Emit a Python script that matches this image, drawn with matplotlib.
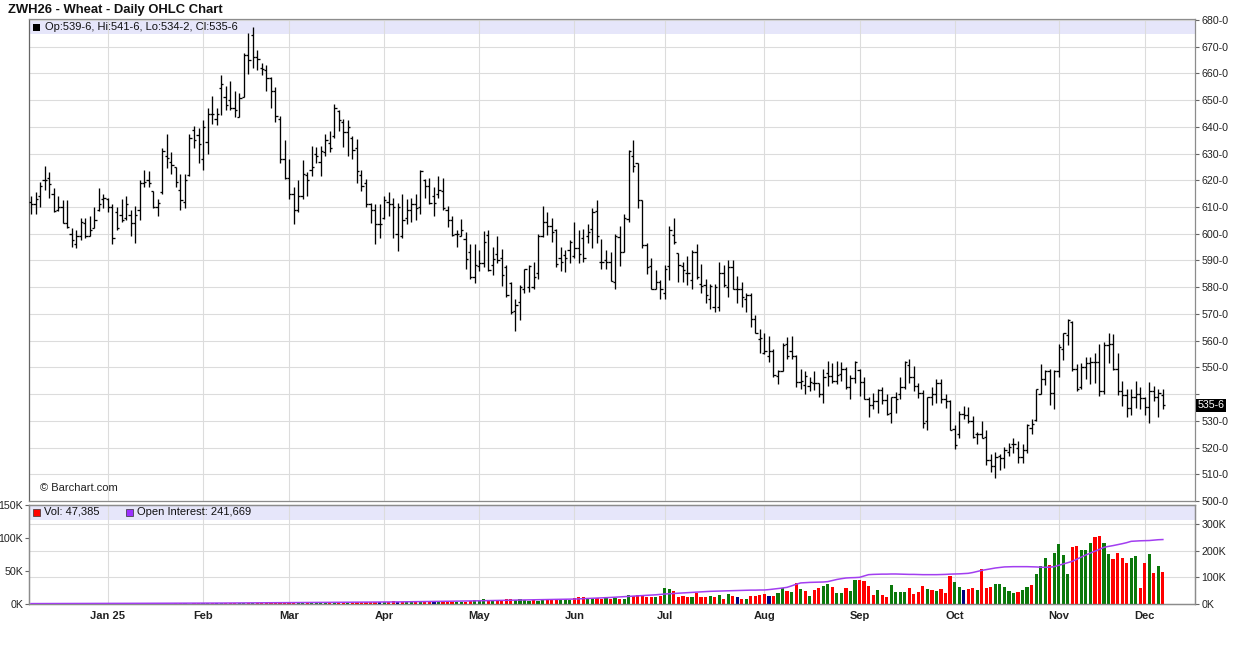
import matplotlib
matplotlib.use("Agg")
import matplotlib.pyplot as plt
import matplotlib.transforms as mtransforms
from matplotlib.collections import LineCollection
from matplotlib.patches import Rectangle
import numpy as np
import pandas as pd

plt.rcParams['font.family'] = ['Liberation Sans', 'DejaVu Sans']

# ---------------- data ----------------
opens = [
    612, 611, 614, 620, 621, 615, 609, 610, 604, 600,
    596, 599, 604, 599, 602, 609, 613, 613, 610, 608,
    607, 606, 607, 604, 609, 619, 620, 616, 610, 615.5,
    629, 627, 625, 616.5, 612, 622, 639, 637, 628, 634.5,
    644.75, 643, 654.5, 651.25, 650, 647, 643.75, 651, 667, 674.5,
    666, 662, 661.25, 658.25, 653.25, 643, 628, 621, 615, 609,
    614, 622, 624, 630, 627, 630.5, 634, 636.5, 646, 642,
    638, 636, 632, 622, 619, 611, 609, 603.5, 606, 612,
    611, 600, 599, 606, 609, 611, 610, 620, 618, 614,
    615, 616, 609, 605, 600, 599, 598, 593, 584, 588,
    589, 599.5, 588.5, 592.5,
    590.75, 587.75, 581.75, 571.25, 574.5, 579.25, 580, 580, 585.25, 599.25,
    604.25, 602.75, 601.5, 590.75, 592, 594, 591.5, 594.5, 598.25, 599,
    601.75, 608.5, 589.5, 590.25, 589.5, 582, 598.75, 593.25, 605.5, 629,
    626.5, 612.5, 595.75, 588, 579.25, 582, 578, 588, 599.5, 592.75,
    588, 585.25, 582.75, 593, 581.25, 580.75, 575.5, 572.5, 572.75, 585.25,
    580.25, 587.5, 579.5, 579.5, 575.5, 577, 568.25, 560.5, 555.5, 554.25,
    556, 546.75, 548.5, 558.75, 556.25, 554.25, 544.5, 543.5, 543, 544.25,
    544, 540, 547.75, 546.75, 545, 547.5, 549.5, 542.5, 546, 549,
    544.5, 538, 536, 537.25, 541.5, 537.75, 532.75, 538.75, 540, 542.75,
    550.75, 546.25, 543, 540.5, 530, 539, 540, 544.25, 538, 537.5,
    527, 525, 532.5, 532.25, 530, 525, 525, 524, 515.25, 513,
    516.75, 516, 518.5, 521.25, 520, 516.5, 519.25, 527.5, 530.25, 540,
    545.5, 548.5, 540.25, 548.5, 556.75, 562, 567, 549.5, 542.5, 550.25,
    551.5, 552, 552, 541.25, 558.5, 558.75, 549.25, 541.25, 539.75, 534.75,
    539, 540, 538.5, 535, 541.25, 538.75, 539.75]

highs = [
    614, 615.75, 619.5, 625.5, 623, 617, 614, 612.5, 612.5, 602,
    601.5, 606, 606, 606.5, 610, 617, 615, 613.5, 611, 610,
    613, 614, 609, 610.5, 620, 624, 623.5, 616, 613, 632,
    637.5, 630.5, 625, 622.5, 622.5, 637.5, 640.25, 639.75, 642.5, 647,
    651.5, 647.25, 659.5, 655.25, 657.25, 653.5, 652.5, 667.5, 675.25, 677.25,
    668.75, 664, 663.25, 658.75, 655, 644, 635, 628, 617.5, 620,
    627.5, 623, 633, 632.5, 633, 637.5, 638.5, 648.5, 646.5, 643,
    642.5, 636.5, 635.5, 624, 620.5, 611.5, 611, 611, 614, 615.5,
    613.5, 611.5, 615, 613, 613.5, 615, 624, 620.5, 621, 617.5,
    621.5, 621, 610.5, 606.5, 601.5, 605.5, 600.5, 596, 596, 594,
    601, 601.5, 595, 599,
    594.25, 588.25, 582, 575.5, 580.75, 587, 588.25, 589.25, 600, 610.5,
    608.25, 605.75, 601.75, 595, 593.75, 597.5, 604.5, 601.25, 601.75, 603.5,
    609.5, 612.5, 598, 593.75, 593.25, 600, 602.75, 607.5, 631.25, 635,
    626.5, 612.5, 596.5, 590.75, 586.5, 582.75, 588.25, 602.75, 605.75, 592.75,
    589.25, 591.75, 593.75, 596.25, 588.75, 583.25, 581.25, 581.25, 589.5, 588.25,
    590.25, 590.25, 584.25, 582, 578, 578, 569.5, 564.5, 563, 561.75,
    556.75, 549, 559.25, 561.5, 561.75, 554.5, 549.5, 548.5, 546.5, 548.5,
    544.25, 549.5, 552.5, 551.5, 552.5, 552, 550.25, 547, 552.5, 549.25,
    546.25, 539, 540.25, 541.75, 542.75, 540, 539, 540.75, 546.25, 552.5,
    553.25, 550.5, 544.25, 541.5, 539, 542.5, 545.5, 545.5, 540, 537.75,
    528.5, 533.5, 535.5, 535.25, 531.75, 526, 530, 526.5, 517.75, 518.5,
    517.5, 520.25, 521.75, 523.75, 522.5, 521.25, 528.75, 530.5, 541.75, 551.25,
    549, 549.5, 549, 558.75, 562.75, 568, 567.5, 551.25, 551.75, 553.75,
    553.75, 555.5, 558.75, 559.5, 563, 562.5, 555.5, 545, 541.75, 541.75,
    545, 542.5, 539, 544.5, 543, 541.75, 541.75]

lows = [
    607.5, 607.5, 610, 616.5, 613.5, 608, 608.5, 604, 602, 595,
    594.5, 597.5, 598.5, 599, 602, 608.5, 609.5, 608, 596, 601.5,
    604.5, 605, 599, 596.5, 605, 617.5, 617.5, 609.5, 606.5, 615,
    624.5, 622.5, 617.5, 609, 609.5, 621.5, 632, 626.5, 624, 630,
    641.25, 640.75, 644.5, 646.5, 646.5, 643.75, 643.75, 651, 659.75, 662,
    661.25, 659.5, 653.25, 647, 642, 626.5, 620.5, 613, 603.5, 608,
    613, 614, 621.5, 626.5, 621.5, 629, 630.5, 636, 638.5, 632.5,
    629, 628, 619, 616, 610, 604, 596, 598.5, 605.5, 606.5,
    598.5, 593.5, 598.5, 603.5, 604.5, 605, 607.5, 613.5, 611, 606.5,
    613.5, 609, 602.5, 599, 595, 599, 587, 583, 581.5, 586,
    587.5, 586, 584.5, 589,
    580.5, 576.25, 570, 563.5, 567.75, 577.75, 578.25, 579.5, 583.25, 598.75,
    599.5, 596.75, 587.5, 586.25, 585.75, 589, 590.75, 589, 589.5, 596.5,
    594.5, 596.5, 586.75, 587, 582.5, 579.25, 588, 593, 604.25, 623,
    609.5, 594.5, 585, 579.25, 579.25, 575.75, 575.75, 582.75, 596.25, 582,
    582, 580.75, 579.25, 583.25, 578, 574, 572, 570.75, 571.25, 580.25,
    576.25, 579.5, 574, 572.5, 570.75, 565, 562.75, 555.25, 555, 552,
    546.25, 543.75, 548.5, 553, 553, 542.5, 542, 540, 541, 541.5,
    538.75, 536.5, 543, 544.25, 543.75, 545, 541.75, 538, 544.25, 539.25,
    538, 531.25, 534.25, 532.75, 536.25, 532.25, 529.25, 532.75, 538, 541.75,
    544, 541, 538.5, 527.5, 526.5, 536, 536.5, 536.75, 534.75, 526.5,
    519.5, 523.5, 530.5, 529.25, 523.5, 521.5, 523.5, 513.5, 511, 508.5,
    511.75, 512.5, 516.75, 518, 514.25, 514.25, 518, 525.25, 530, 540,
    543.5, 536, 534.25, 546.25, 552.75, 558.5, 548.75, 541, 541.75, 545.5,
    543.75, 544, 539.25, 540, 551.75, 549, 539.75, 535.5, 531.5, 532.25,
    534.75, 534.25, 532.25, 529.25, 537.5, 531.25, 534.25]

closes = [
    611, 613, 618, 620, 618.5, 608.5, 610, 604, 602.5, 597.5,
    599, 604.5, 599, 601.5, 605, 611, 613.5, 610, 598.5, 602,
    605, 611, 604, 607, 619, 619.5, 619, 610, 611.5, 631,
    628.5, 625.75, 619.5, 612.5, 620, 636, 635.25, 633.5, 640, 645,
    644.75, 644.75, 656, 648.25, 647, 646.25, 650.75, 667, 665, 666,
    665.25, 661.5, 658.25, 653.25, 644, 628, 621, 615, 609, 614,
    622.5, 620, 625, 629, 631, 635, 632, 647, 642.5, 638,
    640, 631.5, 623.5, 618, 611, 609, 603.5, 603.5, 612.5, 611,
    610, 610, 605, 609, 611, 609.5, 623.5, 618, 611.5, 611.5,
    616.5, 609.5, 605, 599.5, 600, 601.5, 590.5, 584, 588.5, 589,
    597, 586.5, 590.5, 590,
    584.5, 577, 570.75, 573.25, 580.25, 586.75, 588, 584, 599, 604.25,
    602.75, 600.75, 588.75, 589.25, 590.75, 596.75, 594.5, 592.5, 590.75, 600.5,
    608.25, 599, 589.25, 589.5, 582.5, 599.25, 593, 605.75, 631, 625.5,
    612.5, 595.75, 587.75, 579.25, 582, 579.25, 586.75, 601.5, 596.75, 588.25,
    586.5, 585.25, 593, 584, 580.5, 577, 580.5, 580, 585.25, 580.75,
    587.5, 579.5, 579.5, 576.5, 577, 568.25, 562.75, 561, 556, 556,
    547.25, 548.75, 558.5, 554.25, 554.25, 544.5, 544.75, 546.75, 544.5, 544.25,
    540, 546.5, 546.75, 545, 547, 549.25, 542.5, 546, 552, 544.5,
    538, 536, 537.25, 541.5, 537.75, 532.5, 538.75, 538, 542.75, 552,
    546.25, 543, 540.5, 529.25, 539, 540, 544.25, 538, 537.5, 526.75,
    521, 532.5, 532, 529.75, 524, 525, 523.75, 515.25, 513, 516.5,
    516, 519.25, 520.25, 521.25, 516.5, 519.25, 528.5, 528.75, 541.75, 545.5,
    548.5, 540.25, 548.5, 557.75, 562.75, 567.75, 549.5, 542, 550.25, 551.5,
    552, 552, 541.25, 558.5, 558.75, 549.25, 541.25, 539.75, 534.75, 539,
    540, 538.5, 535, 541.25, 538.75, 540.25, 535.75]

# daily volume, thousands of contracts
volume_k = [
    0.3, 0.5, 0.4, 0.6, 0.5, 1.2, 0.4, 0.8, 1.0, 0.5, 0.6, 0.4, 0.7, 0.5, 0.6, 0.4, 0.5,
    0.6, 0.5, 0.7, 0.4, 0.8, 0.6, 1.2, 0.7, 0.5, 0.9, 0.6, 0.8, 1.0, 0.7, 0.6, 0.8, 0.9, 1.0, 0.7, 1.1, 0.9,
    1.0, 1.1, 0.9, 1.2, 1.0, 1.3, 1.1, 1.2, 1.5, 1.8, 1.6, 2.0, 1.7, 1.9, 1.8, 2.0, 1.7, 2.1, 1.9,
    2.8, 2.5, 2.6, 2.4, 3.0, 2.7, 2.5, 2.8, 3.2, 2.6, 2.9, 2.4, 2.7, 3.0, 2.8, 2.6, 3.1, 2.7, 2.9, 3.2, 3.0,
    3.5, 2.8, 5.0, 3.4, 3.2, 3.0, 3.6, 2.9, 3.3, 3.1, 2.8, 3.5, 2.7, 3.0, 3.2, 2.6, 3.1, 2.9, 3.4, 5.2, 5.6,
    6.5, 7.0, 6.2, 4.8, 5.5, 6.8, 7.2, 7.5, 6.0, 8.0, 5.5, 4.8, 6.3, 5.0, 7.4, 6.6, 6.0, 5.5, 7.0, 7.2, 6.5,
    9.0, 10.5, 10.0, 7.5, 7.0, 9.5, 8.0, 8.5,
    7.5, 9, 8, 8, 14, 11.5, 14, 11.5, 10, 10,
    10, 11.5, 24, 23, 20, 11, 12.5, 10, 11, 17,
    10, 10, 12.5, 10, 14, 8, 15.5, 12.5, 11, 8,
    8, 12.5, 12.5, 14, 15.5, 12.5, 12.5, 17, 24, 20,
    18.5, 32, 23, 20, 12.5, 21.5, 24.5, 27.5, 30.5, 26,
    17, 17, 24.5, 20, 36.5, 36.5, 35, 27.5, 14, 21.5,
    14, 11, 29, 18.5, 18.5, 18.5, 24.5, 15.5, 18.5, 27.5,
    23, 21.5, 20, 23, 17, 42.5, 33.5, 26, 21.5, 23,
    24.5, 21.5, 53, 24.5, 26, 30.5, 30.5, 26, 20, 17,
    18.5, 21.5, 26, 29, 45.5, 57.5, 69.5, 59, 77, 90.5,
    74, 45.5, 86, 87.5, 81.5, 81.5, 92, 101, 102.5, 92,
    75.5, 68, 77, 69.5, 62, 69.5, 72.5, 24.5, 62, 75.5,
    47, 57.5, 48.5]

# open interest, thousands of contracts
open_interest_k = [
    1.5, 1.5, 1.6, 1.6, 1.7, 1.7, 1.8, 1.8, 1.9, 1.9, 2.0, 2.0, 2.0, 2.1, 2.1, 2.1, 2.2,
    2.2, 2.3, 2.3, 2.4, 2.4, 2.5, 2.5, 2.6, 2.6, 2.7, 2.7, 2.8, 2.8, 2.9, 2.9, 3.0, 3.0, 3.1, 3.1, 3.2, 3.2,
    3.3, 3.3, 3.4, 3.5, 3.5, 3.6, 3.7, 3.8, 3.9, 4.0, 4.1, 4.2, 4.3, 4.4, 4.5, 4.6, 4.7, 4.8, 4.9,
    5.0, 5.1, 5.2, 5.3, 5.4, 5.5, 5.6, 5.7, 5.8, 5.9, 6.0, 6.1, 6.2, 6.3, 6.4, 6.5, 6.6, 6.7, 6.8, 6.9, 7.0,
    7.2, 7.4, 7.6, 7.8, 8.0, 8.2, 8.4, 8.6, 8.8, 9.0, 9.2, 9.4, 9.6, 9.8, 10.0, 10.3, 10.6, 10.9, 11.2, 11.5, 11.8,
    12.1, 12.4, 12.7, 13.0, 13.3, 13.6, 13.9, 14.2, 14.5, 14.8, 15.1, 15.4, 15.7, 16.0, 16.3, 16.6, 16.9, 17.2, 17.5, 17.8, 18.1,
    18.5, 19.2, 19.9, 20.6, 21.3, 22, 22.7, 23.4, 24.5, 25.5, 26.5, 27.5, 28.5, 29.5, 30.5, 31.5, 32.5, 33.5, 34.5, 36,
    37.5, 38.5, 39.5, 40.5, 41.5, 42.5, 43.5, 44.5, 45.5, 46.5, 47.5, 48, 48.5, 49, 49.5, 50, 50.5, 51, 51.5, 52, 52, 52.5,
    52.5, 54, 56, 58, 60, 62.5, 68, 74, 79, 80, 81, 81.5, 82, 82.5, 84, 88, 92, 95, 97.5, 98.5, 99,
    100, 105, 110, 111, 111.5, 112, 112, 112.5, 112.5, 112, 111.5, 111, 111, 110.5, 110, 110, 110, 110, 110.5, 111, 112,
    112.5, 113, 114, 115, 118, 122, 126, 129, 132, 135, 137, 139, 139.5, 140, 140, 140, 140, 139.5, 139, 138, 137.5, 138, 140,
    145, 150, 155, 160, 168, 176, 184, 191, 198, 205, 212.5, 216, 219, 222.5, 226, 230, 235, 236, 237,
    237.5, 238, 239.5, 241, 241.7]

# volume bar colours read for the last 123 sessions (g=up, r=down, n=unchanged)
recent_vol_colors = ("rgrggrrrrr" "grggrrrrgr" "rrgrgrgrnr" "grrrrnrggr" "grgrgrrggr"
                     "ggrggrrrrg" "rrggggrrrr" "grgrrrggnr" "rgrrrggggg" "rggrgggrgg"
                     "ggrrgggrrg" "grrrrggrrg" "rgr")

holidays = ['2024-12-25', '2025-01-01', '2025-01-20', '2025-02-17', '2025-04-18',
            '2025-05-26', '2025-06-19', '2025-07-04', '2025-09-01', '2025-11-27']
month_labels = ['Jan 25', 'Feb', 'Mar', 'Apr', 'May', 'Jun', 'Jul', 'Aug', 'Sep', 'Oct', 'Nov', 'Dec']
price_ticks = list(range(500, 681, 10))
hidden_price_tick = 540
vol_ticks_k = [0, 50, 100, 150]
oi_ticks_k = [0, 100, 200, 300]
title = 'ZWH26 - Wheat - Daily OHLC Chart'
legend_ohlc = 'Op:539-6, Hi:541-6, Lo:534-2, Cl:535-6'
legend_vol = 'Vol: 47,385'
legend_oi = 'Open Interest: 241,669'
last_label = '535-6'
last_close = 535.75
copyright_text = '\u00a9 Barchart.com'

# ---------------- layout ----------------
n = min(len(opens), len(highs), len(lows), len(closes), len(volume_k), len(open_interest_k))
dates = pd.bdate_range('2024-12-06', periods=n, freq='C', holidays=holidays)
x = np.arange(n)
month_starts = [i for i in range(1, n) if dates[i].month != dates[i - 1].month]
month_starts = month_starts[:len(month_labels)]

W, H = 1236, 645
fig = plt.figure(figsize=(W / 100, H / 100), dpi=100)
fig.patch.set_facecolor('white')


def fx(p):
    return p / W


def fy(p):
    return 1 - p / H


LEFT, RIGHT = 29, 1195
P_TOP, P_BOT = 19, 501
V_TOP, V_BOT = 504.5, 604
ax = fig.add_axes([fx(LEFT), fy(P_BOT), fx(RIGHT - LEFT), (P_BOT - P_TOP) / H])
axv = fig.add_axes([fx(LEFT), fy(V_BOT), fx(RIGHT - LEFT), (V_BOT - V_TOP) / H], sharex=ax)

GRID = '#DCDCDC'
SPINE = '#8C8C8C'
BAND = '#E6E6FA'

# ---------- price panel ----------
tick = 0.5
segs = []
for i in range(n):
    segs.append([(x[i], lows[i]), (x[i], highs[i])])
    segs.append([(x[i] - tick, opens[i]), (x[i], opens[i])])
    segs.append([(x[i], closes[i]), (x[i] + tick, closes[i])])
ax.add_collection(LineCollection(segs, colors='black', linewidths=0.95,
                                 capstyle='butt', zorder=3))
ax.set_xlim(-0.44, 257.1)
ax.set_ylim(500, 680.37)
ax.set_xticks(month_starts)
ax.set_yticks(price_ticks)
ax.set_yticklabels(['' if t == hidden_price_tick else f'{t}-0' for t in price_ticks])
ax.yaxis.tick_right()
ax.tick_params(axis='y', length=3, width=0.8, color='#666666', labelsize=7.7,
               pad=1.5, labelcolor='#222222')
ax.tick_params(axis='x', length=0, labelbottom=False)
ax.grid(True, color=GRID, linewidth=0.8, zorder=1)
for s in ax.spines.values():
    s.set_color(SPINE)
    s.set_linewidth(0.9)
ax.spines['left'].set_color('#666666')

band_h = 15 / (P_BOT - P_TOP)
ax.add_patch(Rectangle((0, 1 - band_h), 1, band_h, transform=ax.transAxes,
                       facecolor=BAND, edgecolor='none', zorder=0.2))
fig.add_artist(Rectangle((fx(33), fy(31)), fx(7), 7 / H, transform=fig.transFigure,
                         facecolor='black', edgecolor='none'))
fig.text(fx(45), fy(27), legend_ohlc, fontsize=8, va='center', ha='left', color='#111111')
ax.text(fx(40 - LEFT) / fx(RIGHT - LEFT), (P_BOT - 488) / (P_BOT - P_TOP), copyright_text,
        transform=ax.transAxes, fontsize=8, va='center', ha='left', color='#222222')

trans = mtransforms.blended_transform_factory(ax.transAxes, ax.transData)
ax.text(1.0 + 2.5 / (RIGHT - LEFT), last_close, last_label, transform=trans,
        fontsize=7.7, color='white', va='center', ha='left',
        bbox=dict(boxstyle='square,pad=0.12', facecolor='black', edgecolor='none'))

fig.text(fx(8), fy(9.5), title, fontsize=9.4, fontweight='bold', va='center',
         ha='left', color='#111111')

# ---------- volume panel ----------
cmap = {'g': '#0B780B', 'r': '#FF0000', 'n': '#000080'}
codes = []
for i in range(n):
    if i == 0 or closes[i] < closes[i - 1]:
        codes.append('r')
    elif closes[i] > closes[i - 1]:
        codes.append('g')
    else:
        codes.append('n')
k = len(recent_vol_colors)
codes[n - k:] = list(recent_vol_colors)
bar_colors = [cmap[c] for c in codes]

vol = np.array(volume_k[:n]) * 1000
VOL_TOP = 150000 * (V_BOT - V_TOP) / 99.0
OI_TOP = 100000 * (V_BOT - V_TOP) / 26.67
axv.bar(x, vol, width=0.7, color=bar_colors, linewidth=0, zorder=3)
axv.set_ylim(0, VOL_TOP)
axv.set_yticks([v * 1000 for v in vol_ticks_k])
axv.set_yticklabels([f'{v}K' for v in vol_ticks_k])
axv.tick_params(axis='y', left=True, right=False, labelleft=True, labelright=False,
                length=3, width=0.8, color='#666666', labelsize=7.7, pad=1,
                labelcolor='#222222')
axv.set_xticks(month_starts)
axv.set_xticklabels(month_labels[:len(month_starts)], fontsize=8, fontweight='bold',
                    color='#222222')
axv.tick_params(axis='x', length=0, pad=5)
axv.grid(True, axis='x', color=GRID, linewidth=0.8, zorder=1)
for t in oi_ticks_k[1:]:
    axv.axhline(t * 1000 * VOL_TOP / OI_TOP, color=GRID, linewidth=0.8, zorder=1)
for s in axv.spines.values():
    s.set_color(SPINE)
    s.set_linewidth(0.9)

vband_h = 15.5 / (V_BOT - V_TOP)
axv.add_patch(Rectangle((0, 1 - vband_h), 1, vband_h, transform=axv.transAxes,
                        facecolor=BAND, edgecolor='none', zorder=0.2))

axo = axv.twinx()
axo.plot(x, np.array(open_interest_k[:n]) * 1000, color='#A23EF0', linewidth=1.1, zorder=4)
axo.set_ylim(0, OI_TOP)
axo.set_yticks([v * 1000 for v in oi_ticks_k])
axo.set_yticklabels([f'{v}K' for v in oi_ticks_k])
axo.tick_params(axis='y', length=3, width=0.8, color='#666666', labelsize=7.7, pad=1.5,
                labelcolor='#222222')
for s in axo.spines.values():
    s.set_color(SPINE)
    s.set_linewidth(0.9)

fig.add_artist(Rectangle((fx(33), fy(515.5)), fx(7), 7 / H, transform=fig.transFigure,
                         facecolor='#FF0000', edgecolor='#333333', linewidth=0.5))
fig.text(fx(44.5), fy(512), legend_vol, fontsize=8, va='center', ha='left', color='#111111')
fig.add_artist(Rectangle((fx(125.5), fy(515.5)), fx(7), 7 / H, transform=fig.transFigure,
                         facecolor='#9B30FF', edgecolor='#333333', linewidth=0.5))
fig.text(fx(137), fy(512), legend_oi, fontsize=8, va='center', ha='left', color='#111111')

fig.savefig('out.png', dpi=100, facecolor='white')
